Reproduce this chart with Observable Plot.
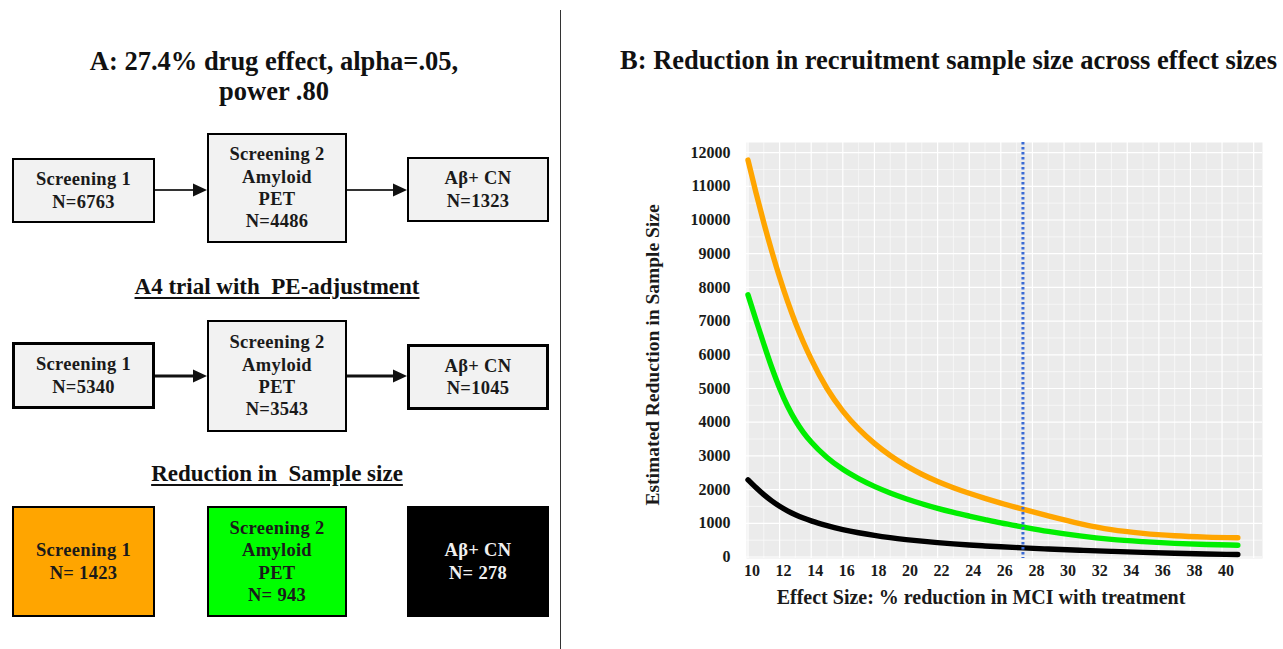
<!DOCTYPE html>
<html>
<head>
<meta charset="utf-8">
<script src="https://cdn.jsdelivr.net/npm/d3@7"></script>
<script src="https://cdn.jsdelivr.net/npm/@observablehq/plot@0.6"></script>
<style>
  html, body { margin: 0; padding: 0; background: #fff; }
  body { width: 1283px; height: 649px; overflow: hidden; position: relative;
         font-family: "Liberation Serif", "Times New Roman", "DejaVu Serif", serif; font-weight: bold; color: #111; }
  .abs { position: absolute; white-space: nowrap; }
  .title { font-size: 26.5px; line-height: 30px; }
  .heading { font-size: 23px; line-height: 28px; text-decoration: underline; text-decoration-thickness: 2px; text-underline-offset: 3px; text-align: center; }
  .box { position: absolute; box-sizing: border-box; display: flex; flex-direction: column;
         justify-content: center; align-items: center; text-align: center; letter-spacing: 0.3px;
         font-size: 18.5px; line-height: 22.3px; border: 2.5px solid #000; background: #f2f2f2; color: #1a1a1a; }
  .axis-title { font-size: 20px; line-height: 24px; text-align: center; color: #1a1a1a; }
  #chartB { position: absolute; left: 560px; top: 130px; }
</style>
</head>
<body>
<div id="root"></div>
<script>
// ---------------- Data ----------------
// Panel A: sample sizes at each recruitment stage
const stageLines = [["Screening 1"], ["Screening 2", "Amyloid", "PET"], ["Aβ+ CN"]];
const a4Original = [6763, 4486, 1323];
const a4Adjusted = [5340, 3543, 1045];
const sampleReduction = [1423, 943, 278];
const titleA = ["A: 27.4% drug effect, alpha=.05,", "power .80"];
const headingAdjusted = "A4 trial with  PE-adjustment";
const headingReduction = "Reduction in  Sample size";

// Panel B: estimated reduction in sample size vs effect size
const titleB = "B: Reduction in recruitment sample size across effect sizes";
const xTitle = "Effect Size: % reduction in MCI with treatment";
const yTitle = "Estimated Reduction in Sample Size";
const effectSize = [10, 10.5, 11, 11.5, 12, 12.5, 13, 13.5, 14, 15, 16, 17, 18, 19, 20, 21, 22, 23, 24, 25, 26, 27.4, 29, 31, 33, 35, 37, 39, 41];
const screening1 = [11780, 10820, 9920, 9080, 8300, 7590, 6950, 6380, 5870, 5000, 4330, 3800, 3370, 3010, 2710, 2455, 2240, 2055, 1890, 1740, 1600, 1420, 1220, 990, 810, 700, 630, 590, 570];
const screening2 = [7780, 7040, 6320, 5630, 5010, 4480, 4050, 3700, 3410, 2950, 2600, 2325, 2095, 1900, 1730, 1580, 1445, 1325, 1215, 1110, 1010, 890, 760, 625, 522, 455, 405, 372, 350];
const abetaCN    = [2290, 2060, 1850, 1665, 1505, 1370, 1255, 1155, 1070, 930, 815, 720, 640, 573, 517, 469, 427, 390, 357, 328, 302, 270, 237, 200, 167, 138, 112, 90, 72];
const seriesNames  = ["Screening 1", "Screening 2 Amyloid PET", "Aβ+ CN"];
const seriesColors = ["#ffa500", "#00ee00", "#000000"];
const drugEffect = 27.4;
const xTicks = [10, 12, 14, 16, 18, 20, 22, 24, 26, 28, 30, 32, 34, 36, 38, 40];
const yTicks = [0, 1000, 2000, 3000, 4000, 5000, 6000, 7000, 8000, 9000, 10000, 11000, 12000];

// ---------------- Panel A (diagram) ----------------
const root = document.getElementById("root");
function addDiv(cls, style, html) {
  const d = document.createElement("div");
  d.className = cls; Object.assign(d.style, style); d.innerHTML = html;
  root.appendChild(d); return d;
}
addDiv("abs title", {left: "0px", top: "46px", width: "548px", textAlign: "center"}, titleA.join("<br>"));
addDiv("abs heading", {left: "0px", top: "273px", width: "554px", whiteSpace: "pre"}, headingAdjusted);
addDiv("abs heading", {left: "0px", top: "460px", width: "554px", whiteSpace: "pre"}, headingReduction);

const colLeft = [12, 207, 407], colWidth = [143, 140, 142];
const rows = [
  {values: a4Original, tops: [158, 133, 157], heights: [65, 110, 65], fill: ["#f2f2f2", "#f2f2f2", "#f2f2f2"], text: ["#1a1a1a", "#1a1a1a", "#1a1a1a"], eq: "N=", border: ["2.5px", "2px", "2.5px"]},
  {values: a4Adjusted, tops: [342, 320, 344], heights: [67, 112, 66], fill: ["#f2f2f2", "#f2f2f2", "#f2f2f2"], text: ["#1a1a1a", "#1a1a1a", "#1a1a1a"], eq: "N=", border: ["3px", "2.5px", "3px"]},
  {values: sampleReduction, tops: [506, 506, 506], heights: [111, 111, 111], fill: ["#ffa500", "#00ff00", "#000000"], text: ["#1a1a1a", "#1a1a1a", "#f0f0f0"], eq: "N= ", border: ["2.5px", "2.5px", "2px"]}
];
rows.forEach(r => {
  r.values.forEach((v, i) => {
    addDiv("box", {left: colLeft[i] + "px", top: r.tops[i] + "px", width: colWidth[i] + "px", height: r.heights[i] + "px",
      background: r.fill[i], color: r.text[i], borderWidth: r.border[i]},
      stageLines[i].map(t => `<div>${t}</div>`).join("") + `<div>${r.eq}${v}</div>`);
  });
});

// arrows between stage boxes (rows 1 and 2)
const ns = "http://www.w3.org/2000/svg";
const arrowSvg = document.createElementNS(ns, "svg");
arrowSvg.setAttribute("width", 561); arrowSvg.setAttribute("height", 649);
Object.assign(arrowSvg.style, {position: "absolute", left: "0px", top: "0px"});
[{y: 190, w: 2, c: "#333"}, {y: 376, w: 3, c: "#111"}].forEach(a => {
  [[155, 207], [347, 407]].forEach(([x0, x1]) => {
    const l = document.createElementNS(ns, "line");
    l.setAttribute("x1", x0); l.setAttribute("x2", x1 - 12); l.setAttribute("y1", a.y); l.setAttribute("y2", a.y);
    l.setAttribute("stroke", a.c); l.setAttribute("stroke-width", a.w);
    arrowSvg.appendChild(l);
    const p = document.createElementNS(ns, "polygon");
    p.setAttribute("points", `${x1 - 14},${a.y - 6.5} ${x1},${a.y} ${x1 - 14},${a.y + 6.5}`);
    p.setAttribute("fill", "#111");
    arrowSvg.appendChild(p);
  });
});
// vertical divider
const div = document.createElementNS(ns, "line");
div.setAttribute("x1", 560.5); div.setAttribute("x2", 560.5); div.setAttribute("y1", 10); div.setAttribute("y2", 649);
div.setAttribute("stroke", "#333"); div.setAttribute("stroke-width", 1);
arrowSvg.appendChild(div);
root.appendChild(arrowSvg);

// ---------------- Panel B (chart) ----------------
addDiv("abs title", {left: "620px", top: "45px"}, titleB);
addDiv("abs axis-title", {left: "681px", top: "585px", width: "600px"}, xTitle);
addDiv("abs axis-title", {left: "453px", top: "343px", width: "400px", fontSize: "19.5px", transform: "rotate(-90deg)"}, yTitle);

const curveData = [];
[screening1, screening2, abetaCN].forEach((vals, s) => {
  effectSize.forEach((x, i) => curveData.push({series: seriesNames[s], x, y: vals[i]}));
});

const xMajor = d3.range(10, 43, 2), xMinor = d3.range(11, 43, 2);
const yMajor = yTicks, yMinor = d3.range(500, 12500, 1000);
const font = {fontFamily: "Liberation Serif, Times New Roman, serif", fontWeight: "bold", fontSize: 16, fill: "#1a1a1a"};

const chart = Plot.plot({
  width: 723, height: 470,
  marginLeft: 186, marginRight: 21, marginTop: 12, marginBottom: 42,
  style: {background: "transparent", overflow: "visible"},
  x: {domain: [9.905, 42.56], axis: null},
  y: {domain: [-45, 12300], axis: null},
  color: {domain: seriesNames, range: seriesColors},
  marks: [
    Plot.frame({fill: "#ebebeb", stroke: "none"}),
    Plot.ruleX(xMinor, {x: d => d, stroke: "#fafafa", strokeWidth: 0.7}),
    Plot.ruleY(yMinor, {y: d => d, stroke: "#fafafa", strokeWidth: 0.7}),
    Plot.ruleX(xMajor, {x: d => d, stroke: "#ffffff", strokeWidth: 1.2}),
    Plot.ruleY(yMajor, {y: d => d, stroke: "#ffffff", strokeWidth: 1.2}),
    Plot.line(curveData, {x: "x", y: "y", z: "series", stroke: "series", strokeWidth: 5.4, curve: "monotone-x", strokeLinecap: "round", strokeLinejoin: "round"}),
    Plot.ruleX([drugEffect], {x: d => d, stroke: "#3a6ad4", strokeWidth: 3, strokeDasharray: "2.5,2.5"}),
    Plot.text(xTicks, {x: d => d, text: d => String(d), frameAnchor: "bottom", dy: 17, dx: 4, ...font}),
    Plot.text(yTicks, {y: d => d, text: d => String(d), frameAnchor: "left", textAnchor: "end", dx: -16, ...font})
  ]
});
chart.id = "chartB";
root.appendChild(chart);
</script>
</body>
</html>
